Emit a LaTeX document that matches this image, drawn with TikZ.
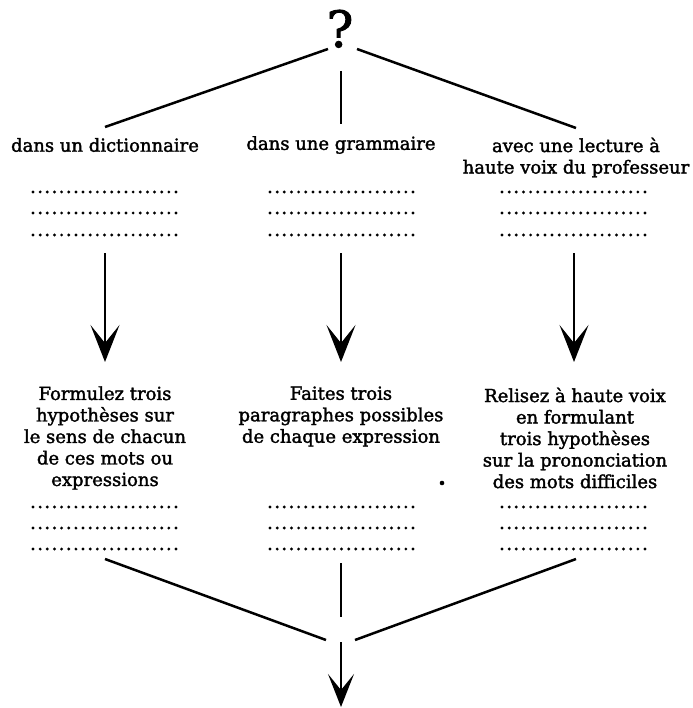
\documentclass[tikz,border=0pt]{standalone}
\usepackage{fontspec}
\setmainfont{DejaVu Serif}[FakeBold=1.8]
\usetikzlibrary{arrows.meta}
\begin{document}
\begin{tikzpicture}[x=1pt,y=-1pt,
  lbl/.style={font=\fontsize{18}{21.5}\selectfont, align=center, inner sep=0pt},
  conn/.style={line width=2.5pt},
  arr/.style={line width=2.5pt, -{Stealth[length=37pt,width=29pt,inset=18pt]}},
  arrb/.style={line width=2.5pt, -{Stealth[length=33pt,width=26pt,inset=16pt]}},
  dotrow/.style={line width=3.2pt, line cap=round, dash pattern=on 0pt off 7.15pt}
]
\useasboundingbox (0,0) rectangle (692,708);

% question mark
\node[inner sep=0pt, anchor=base, font=\fontsize{50}{50}\selectfont] (q) at (340,47) {?};

% first row texts
\node[lbl] (t1) at (105,145) {dans un dictionnaire};
\node[lbl] (t2) at (341,145) {dans une grammaire};
\node[lbl] (t3) at (576,157.5) {avec une lecture à\\haute voix du professeur};

% second row texts
\node[lbl] (b1) at (105,438) {Formulez trois\\hypothèses sur\\le sens de chacun\\de ces mots ou\\expressions};
\node[lbl] (b2) at (341,416.5) {Faites trois\\paragraphes possibles\\de chaque expression};
\node[lbl] (b3) at (575,438) {Relisez à haute voix\\en formulant\\trois hypothèses\\sur la prononciation\\des mots difficiles};

% coordinates
\coordinate (qL) at (328,49);
\coordinate (qR) at (357,49);
\coordinate (qM) at (341,71);
\coordinate (t1top) at (105,127);
\coordinate (t2top) at (341,124);
\coordinate (t3top) at (576,128);

\coordinate (a1s) at (105,253); \coordinate (a1e) at (105,362);
\coordinate (a2s) at (341,253); \coordinate (a2e) at (341,362);
\coordinate (a3s) at (574,253); \coordinate (a3e) at (574,362);

\coordinate (l1s) at (105,559); \coordinate (l1e) at (326,640);
\coordinate (l3s) at (576,559); \coordinate (l3e) at (355,640);
\coordinate (m1) at (341,563); \coordinate (m2) at (341,617);
\coordinate (m3) at (341,642); \coordinate (m4) at (341,707);

% upper connectors
\draw[conn] (qL) -- (t1top);
\draw[conn] (qR) -- (t3top);
\draw[conn] (qM) -- (t2top);

% dotted rows
\foreach \y in {192,213,235,507,528,549}{
  \draw[dotrow] (33,\y) -- (176.3,\y);
  \draw[dotrow] (270,\y) -- (413.3,\y);
  \draw[dotrow] (502,\y) -- (645.3,\y);
}

% arrows
\draw[arr] (a1s) -- (a1e);
\draw[arr] (a2s) -- (a2e);
\draw[arr] (a3s) -- (a3e);

% stray dot
\fill (442,483) circle (2.3pt);

% lower connectors
\draw[conn] (l1s) -- (l1e);
\draw[conn] (l3s) -- (l3e);
\draw[conn] (m1) -- (m2);
\draw[arrb] (m3) -- (m4);
\end{tikzpicture}
\end{document}
